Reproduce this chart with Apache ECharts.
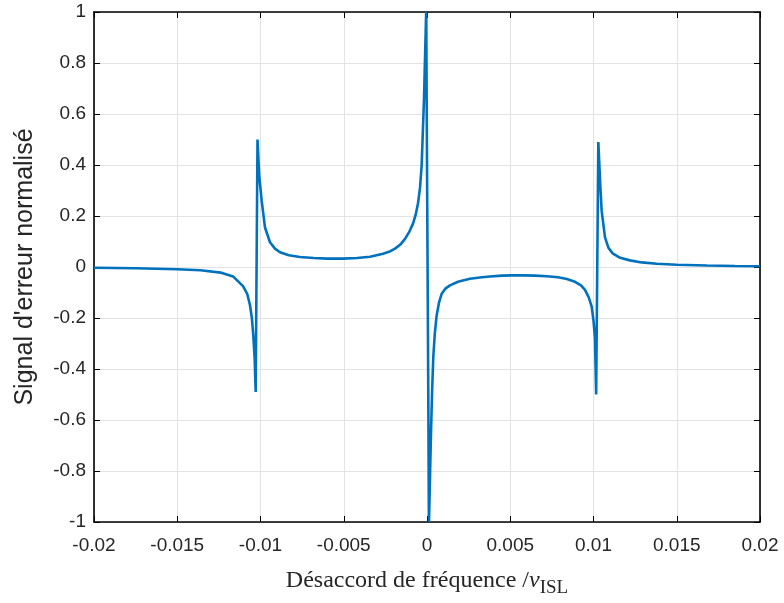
<!DOCTYPE html>
<html>
<head>
<meta charset="utf-8">
<script src="https://cdn.jsdelivr.net/npm/echarts@6/dist/echarts.min.js"></script>
<style>html,body{margin:0;padding:0;background:#fff;}#c{width:784px;height:603px;}</style>
</head>
<body>
<div id="c"></div>
<script>
// Detuning (fraction of ISL) and normalized error signal
var detuning = [
  -0.02, -0.0175, -0.015, -0.0136, -0.0124, -0.01165, -0.01105, -0.0108, -0.01063, -0.01052, -0.01043, -0.01035, -0.01029,
  -0.01018, -0.01008, -0.00993, -0.00973, -0.00943, -0.00913, -0.00883, -0.0083, -0.00763, -0.0068, -0.006, -0.00505, -0.0042, -0.00342, -0.00264, -0.0022, -0.00192, -0.0016, -0.00132, -0.00105, -0.00084, -0.00068, -0.00054, -0.00042, -0.00032, -0.00018, -0.00005,
  0.00012, 0.00024, 0.00031, 0.00038, 0.00047, 0.00058, 0.00072, 0.00088, 0.0011, 0.00138, 0.00186, 0.00258, 0.0033, 0.00378, 0.0045, 0.0051, 0.0058, 0.00649, 0.0072, 0.00787, 0.0084, 0.00889, 0.00925, 0.00949, 0.00972, 0.00989, 0.01, 0.01009, 0.01016,
  0.01029, 0.0104, 0.01049, 0.01069, 0.0109, 0.01117, 0.0116, 0.01219, 0.0129, 0.01381, 0.015, 0.01682, 0.0185, 0.02
];
var errorSignal = [
  -0.003, -0.005, -0.009, -0.013, -0.022, -0.037, -0.075, -0.105, -0.15, -0.2, -0.27, -0.36, -0.49,
  0.50, 0.36, 0.26, 0.155, 0.097, 0.072, 0.058, 0.046, 0.039, 0.035, 0.033, 0.033, 0.035, 0.04, 0.052, 0.062, 0.072, 0.088, 0.11, 0.14, 0.17, 0.205, 0.25, 0.31, 0.40, 0.66, 1.0,
  -1.0, -0.65, -0.48, -0.35, -0.26, -0.19, -0.14, -0.105, -0.085, -0.072, -0.058, -0.046, -0.04, -0.037, -0.034, -0.033, -0.033, -0.034, -0.036, -0.04, -0.047, -0.058, -0.072, -0.09, -0.12, -0.155, -0.21, -0.28, -0.50,
  0.49, 0.33, 0.22, 0.116, 0.075, 0.052, 0.036, 0.026, 0.018, 0.013, 0.009, 0.006, 0.004, 0.003
];
var xRange = [-0.02, 0.02], xStep = 0.005;
var yRange = [-1, 1], yStep = 0.2;
var yAxisTitle = "Signal d'erreur normalisé";

var seriesData = detuning.map(function (d, i) { return [d, errorSignal[i]]; });
function fmt(v, n) { return String(parseFloat(v.toFixed(n))); }

var chart = echarts.init(document.getElementById('c'), null, { renderer: 'canvas' });
var axisCommon = {
  axisLine: { show: true, onZero: false, lineStyle: { color: '#000', width: 1.6 } },
  axisTick: { show: true, inside: true, length: 6, lineStyle: { color: '#000', width: 1 } }
};
chart.setOption({
  animation: false,
  backgroundColor: '#fff',
  grid: { left: 94, right: 24, top: 12, bottom: 75, containLabel: false },
  xAxis: [
    Object.assign({
      type: 'value', position: 'bottom', min: xRange[0], max: xRange[1], interval: xStep,
      axisLabel: { formatter: function (v) { return fmt(v, 3); }, color: '#262626', fontFamily: 'Liberation Sans, Arial', fontSize: 19, margin: 14 },
      splitLine: { show: true, lineStyle: { color: '#e3e3e3', width: 1 } },
      name: '{t|Désaccord de fréquence /}{i|ν}{s|ISL}',
      nameLocation: 'middle', nameGap: 41,
      nameTextStyle: {
        rich: {
          t: { fontFamily: 'Liberation Serif, Times New Roman', fontSize: 24, color: '#262626' },
          i: { fontFamily: 'Liberation Serif, Times New Roman', fontSize: 24, fontStyle: 'italic', color: '#262626' },
          s: { fontFamily: 'Liberation Serif, Times New Roman', fontSize: 19, color: '#262626', padding: [16, 0, 0, 0] }
        }
      }
    }, axisCommon),
    Object.assign({
      type: 'value', position: 'top', min: xRange[0], max: xRange[1], interval: xStep,
      axisLabel: { show: false }, splitLine: { show: false }
    }, axisCommon)
  ],
  yAxis: [
    Object.assign({
      type: 'value', position: 'left', min: yRange[0], max: yRange[1], interval: yStep,
      axisLabel: { formatter: function (v) { return fmt(v, 1); }, color: '#262626', fontFamily: 'Liberation Sans, Arial', fontSize: 19, margin: 8 },
      splitLine: { show: true, lineStyle: { color: '#e3e3e3', width: 1 } },
      name: yAxisTitle, nameLocation: 'middle', nameGap: 56, nameRotate: 90,
      nameTextStyle: { fontFamily: 'Liberation Sans, Arial', fontSize: 25, color: '#262626' }
    }, axisCommon),
    Object.assign({
      type: 'value', position: 'right', min: yRange[0], max: yRange[1], interval: yStep,
      axisLabel: { show: false }, splitLine: { show: false }
    }, axisCommon)
  ],
  series: [{
    type: 'line', xAxisIndex: 0, yAxisIndex: 0, data: seriesData,
    showSymbol: false, smooth: false,
    lineStyle: { color: '#0072BD', width: 2.6 },
    clip: true
  }]
});
</script>
</body>
</html>
